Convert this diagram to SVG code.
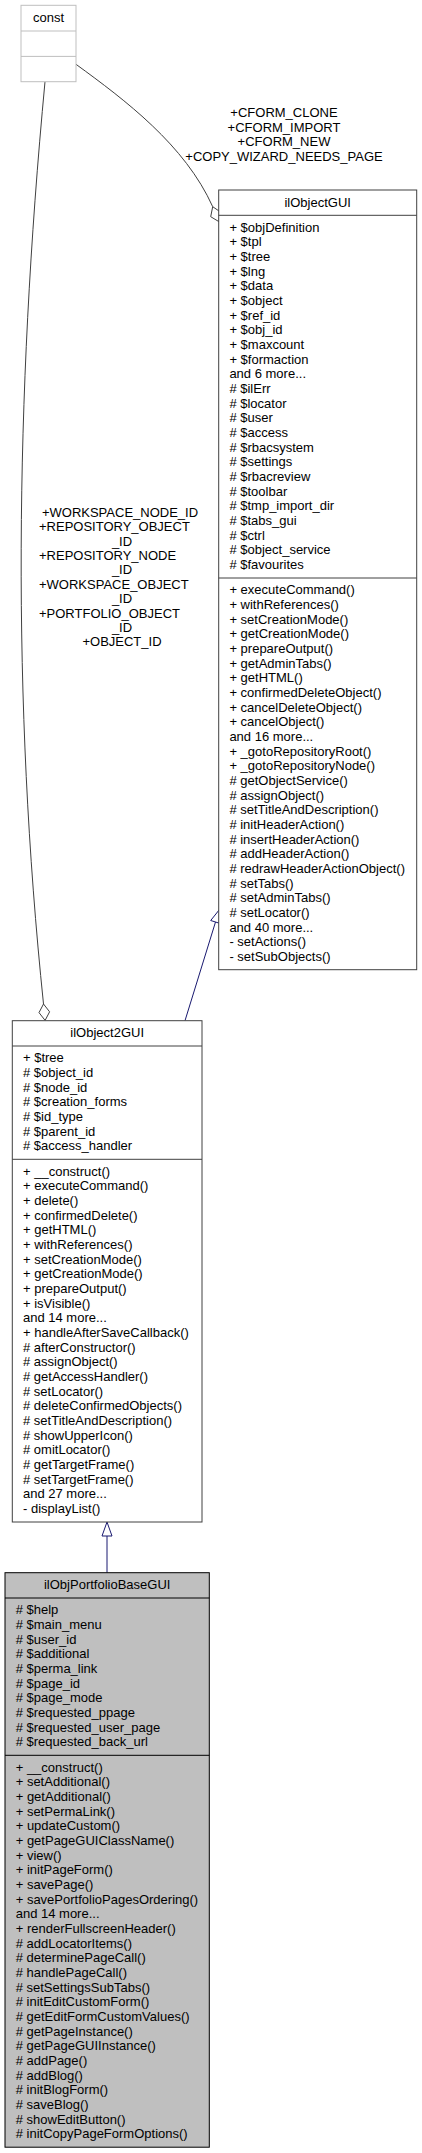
<svg xmlns="http://www.w3.org/2000/svg" width="422" height="2153" viewBox="0 0 422 2153">
<style>
text{font-family:"Liberation Sans",Arial,Helvetica,sans-serif;font-size:13px;fill:#000}
.c{text-anchor:middle}
.box{fill:#fff;stroke:#404040;stroke-width:1}
.cur{fill:#bfbfbf;stroke:#000;stroke-width:1}
.ext{fill:#fff;stroke:#bfbfbf;stroke-width:1}
.sep{stroke:#404040;stroke-width:1}
.sepc{stroke:#000;stroke-width:1}
.sepe{stroke:#bfbfbf;stroke-width:1}
.use{fill:none;stroke:#404040;stroke-width:1}
.dia{fill:#fff;stroke:#404040;stroke-width:1}
.inh{fill:none;stroke:#191970;stroke-width:1}
.tri{fill:#fff;stroke:#191970;stroke-width:1}
</style>
<rect width="422" height="2153" fill="#fff"/>

<g id="connectors">
  <path class="use" d="M76,64.3 C125,100 185,145 212.7,206.7"/>
  <polygon class="dia" points="212.7,206.7 220,211.7 219,221.7 210.7,216.7"/>
  <path class="use" d="M45,81.7 C15,400 12,700 43.5,1004"/>
  <polygon class="dia" points="43.5,1004 49.6,1011.8 45.1,1020.4 39,1012.6"/>
  <path class="inh" d="M185,1020.7 L215.5,922"/>
  <polygon class="tri" points="219.4,909.6 220.3,923.5 210.7,920.5"/>
  <path class="inh" d="M107,1572.7 L107,1536"/>
  <polygon class="tri" points="107,1522 112,1536 102,1536"/>
  <g id="label-const-ilObjectGUI">
    <text class="c" x="284" y="117">+CFORM_CLONE</text>
    <text class="c" x="284" y="131.7">+CFORM_IMPORT</text>
    <text class="c" x="284" y="146.3">+CFORM_NEW</text>
    <text class="c" x="284" y="161">+COPY_WIZARD_NEEDS_PAGE</text>
  </g>
  <g id="label-const-ilObject2GUI">
    <text class="c" x="120" y="516.7">+WORKSPACE_NODE_ID</text>
    <text x="39" y="531.1">+REPOSITORY_OBJECT</text>
    <text class="c" x="122" y="545.5">_ID</text>
    <text x="39" y="559.9">+REPOSITORY_NODE</text>
    <text class="c" x="122" y="574.3">_ID</text>
    <text x="39" y="588.7">+WORKSPACE_OBJECT</text>
    <text class="c" x="122" y="603.1">_ID</text>
    <text x="39" y="617.5">+PORTFOLIO_OBJECT</text>
    <text class="c" x="122" y="631.9">_ID</text>
    <text class="c" x="122" y="646.3">+OBJECT_ID</text>
  </g>
</g>

<g id="const">
  <rect class="ext" x="21" y="5.3" width="55" height="76.4"/>
  <line class="sepe" x1="21" y1="31" x2="76" y2="31"/>
  <line class="sepe" x1="21" y1="56.4" x2="76" y2="56.4"/>
  <text class="c" x="48.5" y="22">const</text>
</g>

<g id="ilObjectGUI">
  <rect class="box" x="218.7" y="190" width="198" height="779.7"/>
  <line class="sep" x1="218.7" y1="215.3" x2="416.7" y2="215.3"/>
  <line class="sep" x1="218.7" y1="578" x2="416.7" y2="578"/>
  <text class="c" x="317.7" y="206.5">ilObjectGUI</text>
  <text x="229.4" y="231.6">
    <tspan x="229.4" dy="0">+ $objDefinition</tspan>
    <tspan x="229.4" dy="14.67">+ $tpl</tspan>
    <tspan x="229.4" dy="14.67">+ $tree</tspan>
    <tspan x="229.4" dy="14.67">+ $lng</tspan>
    <tspan x="229.4" dy="14.67">+ $data</tspan>
    <tspan x="229.4" dy="14.67">+ $object</tspan>
    <tspan x="229.4" dy="14.67">+ $ref_id</tspan>
    <tspan x="229.4" dy="14.67">+ $obj_id</tspan>
    <tspan x="229.4" dy="14.67">+ $maxcount</tspan>
    <tspan x="229.4" dy="14.67">+ $formaction</tspan>
    <tspan x="229.4" dy="14.67">and 6 more...</tspan>
    <tspan x="229.4" dy="14.67"># $ilErr</tspan>
    <tspan x="229.4" dy="14.67"># $locator</tspan>
    <tspan x="229.4" dy="14.67"># $user</tspan>
    <tspan x="229.4" dy="14.67"># $access</tspan>
    <tspan x="229.4" dy="14.67"># $rbacsystem</tspan>
    <tspan x="229.4" dy="14.67"># $settings</tspan>
    <tspan x="229.4" dy="14.67"># $rbacreview</tspan>
    <tspan x="229.4" dy="14.67"># $toolbar</tspan>
    <tspan x="229.4" dy="14.67"># $tmp_import_dir</tspan>
    <tspan x="229.4" dy="14.67"># $tabs_gui</tspan>
    <tspan x="229.4" dy="14.67"># $ctrl</tspan>
    <tspan x="229.4" dy="14.67"># $object_service</tspan>
    <tspan x="229.4" dy="14.67"># $favourites</tspan>
  </text>
  <text x="229.4" y="594.3">
    <tspan x="229.4" dy="0">+ executeCommand()</tspan>
    <tspan x="229.4" dy="14.67">+ withReferences()</tspan>
    <tspan x="229.4" dy="14.67">+ setCreationMode()</tspan>
    <tspan x="229.4" dy="14.67">+ getCreationMode()</tspan>
    <tspan x="229.4" dy="14.67">+ prepareOutput()</tspan>
    <tspan x="229.4" dy="14.67">+ getAdminTabs()</tspan>
    <tspan x="229.4" dy="14.67">+ getHTML()</tspan>
    <tspan x="229.4" dy="14.67">+ confirmedDeleteObject()</tspan>
    <tspan x="229.4" dy="14.67">+ cancelDeleteObject()</tspan>
    <tspan x="229.4" dy="14.67">+ cancelObject()</tspan>
    <tspan x="229.4" dy="14.67">and 16 more...</tspan>
    <tspan x="229.4" dy="14.67">+ _gotoRepositoryRoot()</tspan>
    <tspan x="229.4" dy="14.67">+ _gotoRepositoryNode()</tspan>
    <tspan x="229.4" dy="14.67"># getObjectService()</tspan>
    <tspan x="229.4" dy="14.67"># assignObject()</tspan>
    <tspan x="229.4" dy="14.67"># setTitleAndDescription()</tspan>
    <tspan x="229.4" dy="14.67"># initHeaderAction()</tspan>
    <tspan x="229.4" dy="14.67"># insertHeaderAction()</tspan>
    <tspan x="229.4" dy="14.67"># addHeaderAction()</tspan>
    <tspan x="229.4" dy="14.67"># redrawHeaderActionObject()</tspan>
    <tspan x="229.4" dy="14.67"># setTabs()</tspan>
    <tspan x="229.4" dy="14.67"># setAdminTabs()</tspan>
    <tspan x="229.4" dy="14.67"># setLocator()</tspan>
    <tspan x="229.4" dy="14.67">and 40 more...</tspan>
    <tspan x="229.4" dy="14.67">- setActions()</tspan>
    <tspan x="229.4" dy="14.67">- setSubObjects()</tspan>
  </text>
</g>

<g id="ilObject2GUI">
  <rect class="box" x="12.3" y="1020.7" width="189.7" height="501.3"/>
  <line class="sep" x1="12.3" y1="1046" x2="202" y2="1046"/>
  <line class="sep" x1="12.3" y1="1159.3" x2="202" y2="1159.3"/>
  <text class="c" x="107.2" y="1037">ilObject2GUI</text>
  <text x="23" y="1062.3">
    <tspan x="23" dy="0">+ $tree</tspan>
    <tspan x="23" dy="14.67"># $object_id</tspan>
    <tspan x="23" dy="14.67"># $node_id</tspan>
    <tspan x="23" dy="14.67"># $creation_forms</tspan>
    <tspan x="23" dy="14.67"># $id_type</tspan>
    <tspan x="23" dy="14.67"># $parent_id</tspan>
    <tspan x="23" dy="14.67"># $access_handler</tspan>
  </text>
  <text x="23" y="1175.6">
    <tspan x="23" dy="0">+ __construct()</tspan>
    <tspan x="23" dy="14.67">+ executeCommand()</tspan>
    <tspan x="23" dy="14.67">+ delete()</tspan>
    <tspan x="23" dy="14.67">+ confirmedDelete()</tspan>
    <tspan x="23" dy="14.67">+ getHTML()</tspan>
    <tspan x="23" dy="14.67">+ withReferences()</tspan>
    <tspan x="23" dy="14.67">+ setCreationMode()</tspan>
    <tspan x="23" dy="14.67">+ getCreationMode()</tspan>
    <tspan x="23" dy="14.67">+ prepareOutput()</tspan>
    <tspan x="23" dy="14.67">+ isVisible()</tspan>
    <tspan x="23" dy="14.67">and 14 more...</tspan>
    <tspan x="23" dy="14.67">+ handleAfterSaveCallback()</tspan>
    <tspan x="23" dy="14.67"># afterConstructor()</tspan>
    <tspan x="23" dy="14.67"># assignObject()</tspan>
    <tspan x="23" dy="14.67"># getAccessHandler()</tspan>
    <tspan x="23" dy="14.67"># setLocator()</tspan>
    <tspan x="23" dy="14.67"># deleteConfirmedObjects()</tspan>
    <tspan x="23" dy="14.67"># setTitleAndDescription()</tspan>
    <tspan x="23" dy="14.67"># showUpperIcon()</tspan>
    <tspan x="23" dy="14.67"># omitLocator()</tspan>
    <tspan x="23" dy="14.67"># getTargetFrame()</tspan>
    <tspan x="23" dy="14.67"># setTargetFrame()</tspan>
    <tspan x="23" dy="14.67">and 27 more...</tspan>
    <tspan x="23" dy="14.67">- displayList()</tspan>
  </text>
</g>

<g id="ilObjPortfolioBaseGUI">
  <rect class="cur" x="5" y="1572.7" width="204.3" height="574.5"/>
  <line class="sepc" x1="5" y1="1598" x2="209.3" y2="1598"/>
  <line class="sepc" x1="5" y1="1755.3" x2="209.3" y2="1755.3"/>
  <text class="c" x="107.2" y="1589">ilObjPortfolioBaseGUI</text>
  <text x="15.7" y="1614.3">
    <tspan x="15.7" dy="0"># $help</tspan>
    <tspan x="15.7" dy="14.67"># $main_menu</tspan>
    <tspan x="15.7" dy="14.67"># $user_id</tspan>
    <tspan x="15.7" dy="14.67"># $additional</tspan>
    <tspan x="15.7" dy="14.67"># $perma_link</tspan>
    <tspan x="15.7" dy="14.67"># $page_id</tspan>
    <tspan x="15.7" dy="14.67"># $page_mode</tspan>
    <tspan x="15.7" dy="14.67"># $requested_ppage</tspan>
    <tspan x="15.7" dy="14.67"># $requested_user_page</tspan>
    <tspan x="15.7" dy="14.67"># $requested_back_url</tspan>
  </text>
  <text x="15.7" y="1771.6">
    <tspan x="15.7" dy="0">+ __construct()</tspan>
    <tspan x="15.7" dy="14.67">+ setAdditional()</tspan>
    <tspan x="15.7" dy="14.67">+ getAdditional()</tspan>
    <tspan x="15.7" dy="14.67">+ setPermaLink()</tspan>
    <tspan x="15.7" dy="14.67">+ updateCustom()</tspan>
    <tspan x="15.7" dy="14.67">+ getPageGUIClassName()</tspan>
    <tspan x="15.7" dy="14.67">+ view()</tspan>
    <tspan x="15.7" dy="14.67">+ initPageForm()</tspan>
    <tspan x="15.7" dy="14.67">+ savePage()</tspan>
    <tspan x="15.7" dy="14.67">+ savePortfolioPagesOrdering()</tspan>
    <tspan x="15.7" dy="14.67">and 14 more...</tspan>
    <tspan x="15.7" dy="14.67">+ renderFullscreenHeader()</tspan>
    <tspan x="15.7" dy="14.67"># addLocatorItems()</tspan>
    <tspan x="15.7" dy="14.67"># determinePageCall()</tspan>
    <tspan x="15.7" dy="14.67"># handlePageCall()</tspan>
    <tspan x="15.7" dy="14.67"># setSettingsSubTabs()</tspan>
    <tspan x="15.7" dy="14.67"># initEditCustomForm()</tspan>
    <tspan x="15.7" dy="14.67"># getEditFormCustomValues()</tspan>
    <tspan x="15.7" dy="14.67"># getPageInstance()</tspan>
    <tspan x="15.7" dy="14.67"># getPageGUIInstance()</tspan>
    <tspan x="15.7" dy="14.67"># addPage()</tspan>
    <tspan x="15.7" dy="14.67"># addBlog()</tspan>
    <tspan x="15.7" dy="14.67"># initBlogForm()</tspan>
    <tspan x="15.7" dy="14.67"># saveBlog()</tspan>
    <tspan x="15.7" dy="14.67"># showEditButton()</tspan>
    <tspan x="15.7" dy="14.67"># initCopyPageFormOptions()</tspan>
  </text>
</g>
</svg>
